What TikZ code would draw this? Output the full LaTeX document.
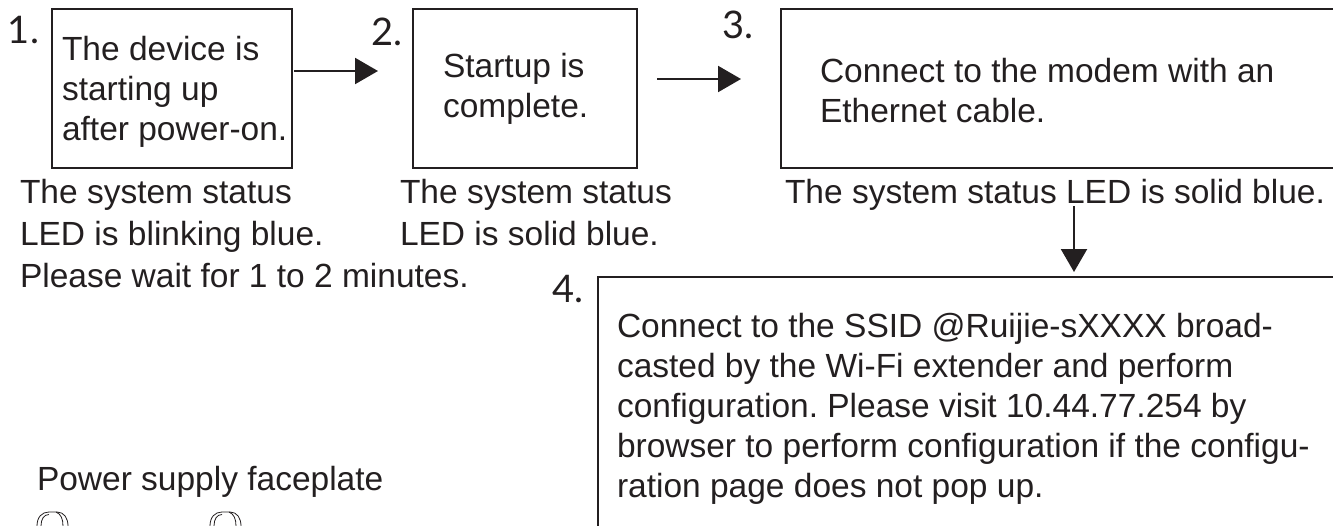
\documentclass[tikz,border=0pt]{standalone}
\usepackage{fontspec}
\setmainfont{Liberation Sans}
\newfontfamily\numfont{Lato}
\usetikzlibrary{arrows.meta}
\definecolor{ink}{HTML}{231F20}
\frenchspacing
\begin{document}
\begin{tikzpicture}[x=1pt,y=-1pt,
  every node/.style={inner sep=0pt, outer sep=0pt},
  txt/.style={anchor=base west, align=left, text=ink, font=\fontsize{33.5}{40}\selectfont},
  txtb/.style={txt, font=\fontsize{33.5}{42}\selectfont},
  num/.style={anchor=base west, text=ink, font=\numfont\fontsize{38}{40}\selectfont},
  box/.style={draw=ink, line width=1.1pt, anchor=north west},
  arr/.style={draw=ink, line width=2.2pt, -{Triangle[length=23pt,width=26pt]}},
  knob/.style={draw=ink, line width=0.8pt}
]
\useasboundingbox (0,0) rectangle (1333,525);
\begin{scope}
\clip (0,0) rectangle (1333,525);
% boxes
\node[box, minimum width=240pt, minimum height=159pt] (b1) at (52,9) {};
\node[box, minimum width=224pt, minimum height=159pt] (b2) at (413,9) {};
\node[box, minimum width=580pt, minimum height=159pt] (b3) at (781,9) {};
\node[box, minimum width=760pt, minimum height=270pt] (b4) at (598,277) {};
% step numbers
\node[num] (n1) at (8,43) {1.};
\node[num] (n2) at (371,45) {2.};
\node[num] (n3) at (722,38) {3.};
\node[num] (n4) at (552,302) {4.};
% box texts (anchored at the baseline of the last line)
\node[txt] (t1) at (62,140) {The device is\\starting up\\after power-on.};
\node[txt] (t2) at (443,117) {Startup is\\complete.};
\node[txt] (t3) at (820,122) {Connect to the modem with an\\Ethernet cable.};
\node[txt] (t4) at (617,497) {Connect to the SSID @Ruijie-sXXXX broad-\\casted by the Wi-Fi extender and perform\\configuration. Please visit 10.44.77.254 by\\browser to perform configuration if the configu-\\ration page does not pop up.};
% status texts
\node[txtb] (s1) at (20,287) {The system status\\LED is blinking blue.\\Please wait for 1 to 2 minutes.};
\node[txtb] (s2) at (400,245) {The system status\\LED is solid blue.};
\node[txtb] (s3) at (785,203) {The system status LED is solid blue.};
\node[txt] (pw) at (37,490) {Power supply faceplate};
% arrows
\coordinate (y1) at (0,71);
\coordinate (y2) at (0,79);
\coordinate (a3s) at (1074,206);
\draw[arr, shorten <=2pt, shorten >=35pt] (b1.east |- y1) -- (b2.west |- y1);
\draw[arr, shorten <=20pt, shorten >=40pt] (b2.east |- y2) -- (b3.west |- y2);
\draw[arr, shorten >=5pt] (a3s) -- (b4.north -| a3s);
% knobs
\draw[knob] (37,526) .. controls (37,517) and (42,512) .. (49,512) -- (57,512) .. controls (64,512) and (68,518) .. (68,526);
\draw[knob] (41,526) .. controls (41,519) and (44,514.5) .. (49,514.5);
\draw[knob] (56,512) .. controls (61,514) and (63,519) .. (63,526);
\draw[knob] (210,526) .. controls (210,517) and (215,512) .. (222,512) -- (230,512) .. controls (237,512) and (241,518) .. (241,526);
\draw[knob] (214,526) .. controls (214,519) and (217,514.5) .. (222,514.5);
\draw[knob] (229,512) .. controls (234,514) and (236,519) .. (236,526);
\end{scope}
\end{tikzpicture}
\end{document}
